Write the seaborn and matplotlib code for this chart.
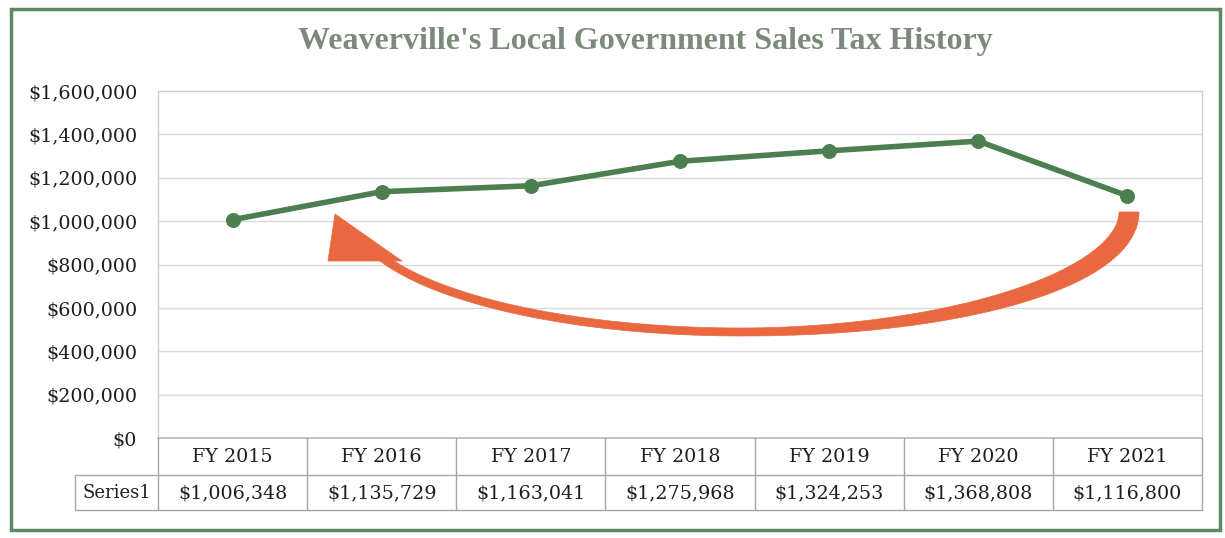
import matplotlib
matplotlib.use("Agg")
import matplotlib.pyplot as plt
import seaborn as sns
import pandas as pd
import numpy as np
from matplotlib.patches import Polygon, Rectangle
from matplotlib.ticker import FuncFormatter

categories = ["FY 2015", "FY 2016", "FY 2017", "FY 2018", "FY 2019", "FY 2020", "FY 2021"]
sales_tax = [1006348, 1135729, 1163041, 1275968, 1324253, 1368808, 1116800]
series_name = "Series1"
y_ticks = [0, 200000, 400000, 600000, 800000, 1000000, 1200000, 1400000, 1600000]
title = "Weaverville's Local Government Sales Tax History"

sns.set_theme(style="white")
plt.rcParams["font.family"] = ["DejaVu Serif", "DejaVu Sans"]

W, H = 1225, 538
fig = plt.figure(figsize=(W / 100, H / 100), dpi=100)
fig.patch.set_facecolor("white")


def fx(px):
    return px / W


def fy(py):
    return 1 - py / H


FS = 13.8
TXT = "#1e1e1e"

# plot area in pixel coords
left, right, top, bottom = 158, 1202, 91, 438
ax = fig.add_axes([left / W, 1 - bottom / H, (right - left) / W, (bottom - top) / H])

df = pd.DataFrame({"cat": categories, "val": sales_tax})
df["x"] = range(len(categories))
line_color = "#4b7f4f"
sns.lineplot(data=df, x="x", y="val", ax=ax, color=line_color, linewidth=4.0,
             marker="o", markersize=10, markeredgecolor=line_color,
             markerfacecolor=line_color, zorder=5)

ax.set_xlim(-0.5, len(categories) - 0.5)
ax.set_ylim(0, 1600000)
ax.set_yticks(y_ticks)
ax.yaxis.set_major_formatter(FuncFormatter(lambda v, p: f"${v:,.0f}"))
ax.tick_params(axis="y", labelsize=FS, length=0, pad=15, labelcolor=TXT)
ax.set_xticks([])
ax.set_xlabel("")
ax.set_ylabel("")
ax.grid(axis="y", color="#d9d9d9", linewidth=1.0)
ax.set_axisbelow(True)
for s in ["top", "right", "left"]:
    ax.spines[s].set_color("#cfcfcf")
    ax.spines[s].set_linewidth(1.0)
ax.spines["bottom"].set_color("#bdbdbd")

# Title
fig.text(fx(645), fy(42), title, ha="center", va="center",
         fontsize=23, fontweight="bold", color="#7b8a7a",
         family=["Liberation Serif", "DejaVu Serif"])

# Data table below axes
table_color = "#a6a6a6"
hdr_bottom = 475
row_bottom = 510
label_left = 75
ncol = len(categories)
colw = (right - left) / ncol

lines = []
lines.append(((left, hdr_bottom), (right, hdr_bottom)))
lines.append(((label_left, hdr_bottom), (left, hdr_bottom)))
lines.append(((label_left, row_bottom), (right, row_bottom)))
for i in range(ncol + 1):
    x = left + i * colw
    lines.append(((x, bottom), (x, row_bottom)))
lines.append(((label_left, hdr_bottom), (label_left, row_bottom)))
for (x0, y0), (x1, y1) in lines:
    fig.add_artist(plt.Line2D([fx(x0), fx(x1)], [fy(y0), fy(y1)], color=table_color,
                              linewidth=1.0))

for i, (c, v) in enumerate(zip(categories, sales_tax)):
    cx = left + (i + 0.5) * colw
    fig.text(fx(cx), fy((bottom + hdr_bottom) / 2 + 1), c, ha="center", va="center",
             fontsize=FS, color=TXT)
    fig.text(fx(cx), fy((hdr_bottom + row_bottom) / 2 + 1), f"${v:,.0f}", ha="center",
             va="center", fontsize=FS, color=TXT)
fig.text(fx((label_left + left) / 2), fy((hdr_bottom + row_bottom) / 2 + 1), series_name,
         ha="center", va="center", fontsize=FS - 0.8, color=TXT)

# Curved orange arrow (decorative annotation, elliptical arc with tapering body)
cx0, cy0, rx, ry = 741, 212, 388, 120
theta = np.radians(np.linspace(0, 158, 200))
cxs = cx0 + rx * np.cos(theta)
cys = cy0 + ry * np.sin(theta)
tx = -rx * np.sin(theta)
ty = ry * np.cos(theta)
nrm = np.hypot(tx, ty)
nx, ny = -ty / nrm, tx / nrm
width = 8 + 12 * np.clip(np.cos(theta), 0, 1) ** 1.6
outer = np.column_stack([cxs + nx * width / 2, cys + ny * width / 2])
inner = np.column_stack([cxs - nx * width / 2, cys - ny * width / 2])
body = np.vstack([outer, inner[::-1]])
arrow_color = "#e9683f"
fig.add_artist(Polygon(np.column_stack([fx(body[:, 0]), fy(body[:, 1])]),
                       closed=True, transform=fig.transFigure,
                       facecolor=arrow_color, edgecolor=arrow_color, lw=0.5, zorder=10))
head = np.array([[328, 261], [402, 261], [335, 214]])
fig.add_artist(Polygon(np.column_stack([fx(head[:, 0]), fy(head[:, 1])]),
                       closed=True, transform=fig.transFigure,
                       facecolor=arrow_color, edgecolor=arrow_color, lw=0.5, zorder=10))

# Outer green frame
fig.add_artist(Rectangle((fx(11), fy(530)), fx(1220) - fx(11), fy(9) - fy(530),
                         transform=fig.transFigure, fill=False, edgecolor="#5d8a62",
                         linewidth=2.5))

fig.savefig("out.png", dpi=100, facecolor="white")
